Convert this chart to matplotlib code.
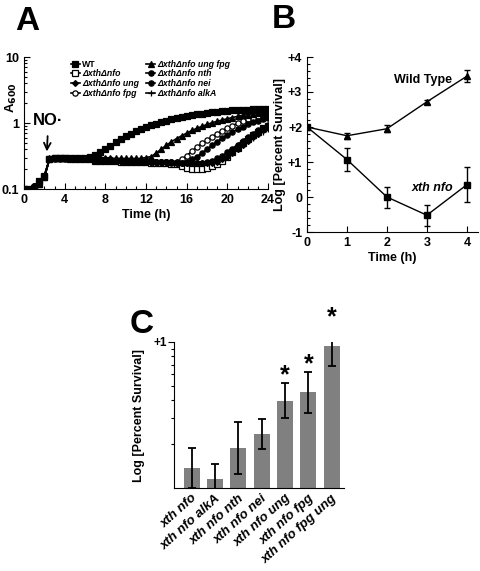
import numpy as np
import matplotlib.pyplot as plt
from matplotlib.ticker import FixedLocator, NullFormatter

plt.rcParams['font.family'] = ['Liberation Sans', 'DejaVu Sans']
plt.rcParams['font.weight'] = 'bold'

### DATA ##########

# panel A: growth curves, A600 every 0.5 h
time_h = np.arange(0, 24.5, 0.5)

a600_wt = [0.10, 0.095, 0.105, 0.13, 0.16, 0.28, 0.29, 0.29,
           0.29, 0.29, 0.29, 0.29, 0.30, 0.31, 0.33, 0.36,
           0.40, 0.45, 0.51, 0.57, 0.63, 0.69, 0.75, 0.81,
           0.87, 0.93, 0.98, 1.04, 1.09, 1.14, 1.19, 1.23,
           1.28, 1.32, 1.36, 1.39, 1.42, 1.45, 1.48, 1.51,
           1.53, 1.55, 1.57, 1.59, 1.60, 1.61, 1.62, 1.63,
           1.64]
a600_xthnfo = [0.10, 0.10, 0.10, 0.12, 0.15, 0.28, 0.29, 0.29,
               0.29, 0.28, 0.28, 0.28, 0.28, 0.28, 0.27, 0.27,
               0.27, 0.27, 0.27, 0.26, 0.26, 0.26, 0.26, 0.26,
               0.26, 0.25, 0.25, 0.25, 0.25, 0.24, 0.24, 0.22,
               0.21, 0.20, 0.20, 0.20, 0.21, 0.22, 0.24, 0.27,
               0.31, 0.36, 0.42, 0.49, 0.57, 0.65, 0.74, 0.83,
               0.90]
a600_ung = [0.10, 0.10, 0.11, 0.13, 0.16, 0.28, 0.29, 0.29,
            0.29, 0.29, 0.29, 0.28, 0.28, 0.28, 0.28, 0.28,
            0.27, 0.27, 0.27, 0.27, 0.27, 0.27, 0.27, 0.26,
            0.26, 0.26, 0.26, 0.26, 0.26, 0.26, 0.26, 0.25,
            0.25, 0.25, 0.25, 0.25, 0.25, 0.25, 0.26, 0.28,
            0.31, 0.35, 0.40, 0.46, 0.53, 0.61, 0.69, 0.77,
            0.85]
a600_fpg = [0.10, 0.10, 0.10, 0.12, 0.15, 0.28, 0.29, 0.29,
            0.29, 0.29, 0.29, 0.28, 0.28, 0.28, 0.28, 0.28,
            0.28, 0.28, 0.27, 0.27, 0.27, 0.27, 0.27, 0.27,
            0.27, 0.27, 0.26, 0.26, 0.26, 0.26, 0.26, 0.28,
            0.32, 0.37, 0.43, 0.49, 0.55, 0.62, 0.69, 0.76,
            0.84, 0.91, 0.99, 1.06, 1.13, 1.20, 1.26, 1.32,
            1.37]
a600_ungfpg = [0.10, 0.10, 0.11, 0.12, 0.15, 0.29, 0.30, 0.30,
               0.30, 0.30, 0.30, 0.30, 0.30, 0.30, 0.29, 0.29,
               0.29, 0.29, 0.29, 0.29, 0.29, 0.29, 0.29, 0.29,
               0.30, 0.31, 0.35, 0.40, 0.46, 0.52, 0.58, 0.64,
               0.70, 0.77, 0.83, 0.89, 0.95, 1.01, 1.06, 1.11,
               1.16, 1.21, 1.26, 1.30, 1.34, 1.38, 1.41, 1.44,
               1.46]
a600_nth = [0.10, 0.10, 0.11, 0.13, 0.16, 0.28, 0.29, 0.29,
            0.29, 0.29, 0.28, 0.28, 0.28, 0.28, 0.28, 0.28,
            0.27, 0.27, 0.27, 0.27, 0.27, 0.27, 0.27, 0.27,
            0.26, 0.26, 0.26, 0.26, 0.26, 0.26, 0.25, 0.25,
            0.26, 0.28, 0.31, 0.35, 0.40, 0.46, 0.52, 0.59,
            0.66, 0.73, 0.80, 0.88, 0.95, 1.02, 1.09, 1.15,
            1.21]
a600_nei = [0.10, 0.10, 0.11, 0.12, 0.15, 0.28, 0.28, 0.28,
            0.28, 0.28, 0.28, 0.28, 0.28, 0.28, 0.27, 0.27,
            0.27, 0.27, 0.27, 0.27, 0.26, 0.26, 0.26, 0.26,
            0.26, 0.26, 0.26, 0.26, 0.26, 0.25, 0.25, 0.25,
            0.25, 0.25, 0.25, 0.25, 0.26, 0.27, 0.29, 0.32,
            0.36, 0.41, 0.47, 0.54, 0.61, 0.69, 0.77, 0.85,
            0.93]
a600_alka = [0.10, 0.10, 0.10, 0.12, 0.15, 0.28, 0.29, 0.29,
             0.29, 0.29, 0.28, 0.28, 0.28, 0.28, 0.28, 0.27,
             0.27, 0.27, 0.27, 0.27, 0.27, 0.26, 0.26, 0.26,
             0.26, 0.26, 0.26, 0.26, 0.26, 0.25, 0.25, 0.25,
             0.25, 0.25, 0.25, 0.25, 0.25, 0.26, 0.27, 0.29,
             0.32, 0.36, 0.41, 0.47, 0.53, 0.60, 0.67, 0.74,
             0.80]

labels_a = ['WT', 'ΔxthΔnfo', 'ΔxthΔnfo ung', 'ΔxthΔnfo fpg',
            'ΔxthΔnfo ung fpg', 'ΔxthΔnfo nth', 'ΔxthΔnfo nei', 'ΔxthΔnfo alkA']

# panel B: survival time course
time_b = [0, 1, 2, 3, 4]
surv_wt = [2.0, 1.75, 1.95, 2.72, 3.45]
err_wt = [0.0, 0.08, 0.10, 0.05, 0.17]
surv_xthnfo = [2.0, 1.07, 0.0, -0.52, 0.35]
err_xthnfo = [0.0, 0.33, 0.30, 0.30, 0.50]

# panel C: survival of the mutants
genotypes = ['xth nfo', 'xth nfo alkA', 'xth nfo nth', 'xth nfo nei',
             'xth nfo ung', 'xth nfo fpg', 'xth nfo fpg ung']
surv_c = [0.136, 0.064, 0.273, 0.37, 0.598, 0.655, 0.973]
err_c = [0.136, 0.10, 0.18, 0.105, 0.12, 0.14, 0.14]
signif = [False, False, False, False, True, True, True]

W, H = 481, 571
fig = plt.figure(figsize=(W / 100, H / 100), dpi=100)

def box(l, t, r, b):
    return [l / W, 1 - b / H, (r - l) / W, (b - t) / H]

### PANEL A ##########
axA = fig.add_axes(box(24, 57, 268, 189))
series = [(a600_wt, 's', 'k'), (a600_xthnfo, 's', 'w'), (a600_ung, 'D', 'k'),
          (a600_fpg, 'o', 'w'), (a600_ungfpg, '^', 'k'), (a600_nth, 'o', 'k'),
          (a600_nei, 'o', 'k'), (a600_alka, '+', 'k')]
for (vals, mk, fc), lab in zip(series, labels_a):
    ms = 3.8 if mk != 'D' else 3.0
    axA.plot(time_h, vals, '-', color='k', lw=1.2, marker=mk, ms=ms,
             mfc=fc, mec='k', mew=0.9, label=lab)
axA.set_yscale('log')
axA.set_ylim(0.1, 10)
axA.set_xlim(0, 24)
axA.set_yticks([0.1, 1, 10])
axA.set_yticklabels(['0.1', '1', '10'])
axA.set_xticks([0, 4, 8, 12, 16, 20, 24])
axA.xaxis.set_minor_locator(FixedLocator(range(25)))
axA.yaxis.set_minor_formatter(NullFormatter())
axA.tick_params(which='both', direction='in', labelsize=9, width=0.8)
axA.tick_params(which='major', length=4)
axA.tick_params(which='minor', length=2)
for s in ['top', 'right']:
    axA.spines[s].set_visible(False)
axA.set_xlabel('Time (h)', fontsize=9, fontweight='bold', labelpad=2)
axA.set_ylabel('A$_{\\mathbf{600}}$', fontsize=9.5, fontweight='bold', va='center')
axA.yaxis.set_label_coords(-0.05, 0.69)
leg = axA.legend(ncol=2, loc='upper left', bbox_to_anchor=(0.16, 1.04),
                 frameon=False, handlelength=1.0, handletextpad=0.3,
                 labelspacing=0.1, columnspacing=0.8,
                 prop={'size': 6.3, 'weight': 'bold', 'style': 'italic'})
leg.get_texts()[0].set_style('normal')
axA.annotate('NO·', xy=(2.25, 0.37), xytext=(2.4, 1.1), ha='center', va='center',
             fontsize=12, fontweight='bold',
             arrowprops=dict(arrowstyle='->', lw=1.3, color='k', shrinkA=4, shrinkB=0))

### PANEL B ##########
axB = fig.add_axes(box(307, 57, 478, 232))
axB.errorbar(time_b, surv_wt, yerr=err_wt, color='k', lw=1.0, marker='^',
             ms=4.5, capsize=2, elinewidth=1.0)
axB.errorbar(time_b, surv_xthnfo, yerr=err_xthnfo, color='k', lw=1.0, marker='s',
             ms=5, capsize=2, elinewidth=1.0)
axB.set_xlim(0, 4.28)
axB.set_ylim(-1, 4)
axB.set_xticks([0, 1, 2, 3, 4])
axB.set_yticks([-1, 0, 1, 2, 3, 4])
axB.set_yticklabels(['-1', '0', '+1', '+2', '+3', '+4'])
axB.yaxis.set_minor_locator(FixedLocator(np.arange(-1, 4.01, 0.2)))
axB.tick_params(which='both', direction='in', labelsize=9, width=0.8)
axB.tick_params(which='major', length=4)
axB.tick_params(which='minor', length=2)
for s in ['top', 'right']:
    axB.spines[s].set_visible(False)
axB.set_xlabel('Time (h)', fontsize=9, fontweight='bold', labelpad=2)
axB.set_ylabel('Log [Percent Survival]', fontsize=9, fontweight='bold', labelpad=1)
axB.text(2.9, 3.34, 'Wild Type', fontsize=9, fontweight='bold', ha='center', va='center')
axB.text(3.15, 0.27, 'xth nfo', fontsize=9, fontweight='bold', style='italic',
         ha='center', va='center')

### PANEL C ##########
axC = fig.add_axes(box(174, 342, 344, 488))
xpos = np.arange(len(genotypes))
axC.bar(xpos, surv_c, width=0.69, color='#808080')
axC.errorbar(xpos, surv_c, yerr=err_c, fmt='none', ecolor='k', elinewidth=1.3,
             capsize=3, capthick=1.3)
for x, v, e, s in zip(xpos, surv_c, err_c, signif):
    if s:
        axC.text(x, v + e + 0.055, '*', fontsize=18, fontweight='bold',
                 ha='center', va='center')
axC.set_xlim(-0.76, 6.53)
axC.set_ylim(0, 1)
axC.set_yticks([1])
axC.set_yticklabels(['+1'])
axC.yaxis.set_minor_locator(FixedLocator(np.log10(np.arange(2, 10))))
axC.set_xticks(xpos)
axC.set_xticklabels(genotypes, rotation=42, ha='right', rotation_mode='anchor',
                    fontsize=9.5, fontweight='bold', style='italic')
axC.tick_params(axis='x', length=0, pad=3)
axC.tick_params(axis='y', which='both', direction='out', labelsize=8.5, width=0.8)
axC.tick_params(axis='y', which='major', length=4, pad=1)
axC.tick_params(axis='y', which='minor', length=2)
for s in ['top', 'right']:
    axC.spines[s].set_visible(False)
axC.set_ylabel('Log [Percent Survival]', fontsize=9, fontweight='bold', labelpad=6)

### PANEL LETTERS ##########
fig.text(15 / W, 1 - 30 / H, 'A', fontsize=24, fontweight='bold')
fig.text(272 / W, 1 - 28 / H, 'B', fontsize=24, fontweight='bold')
fig.text(130 / W, 1 - 333 / H, 'C', fontsize=24, fontweight='bold')

fig.savefig('out.png', dpi=100)
